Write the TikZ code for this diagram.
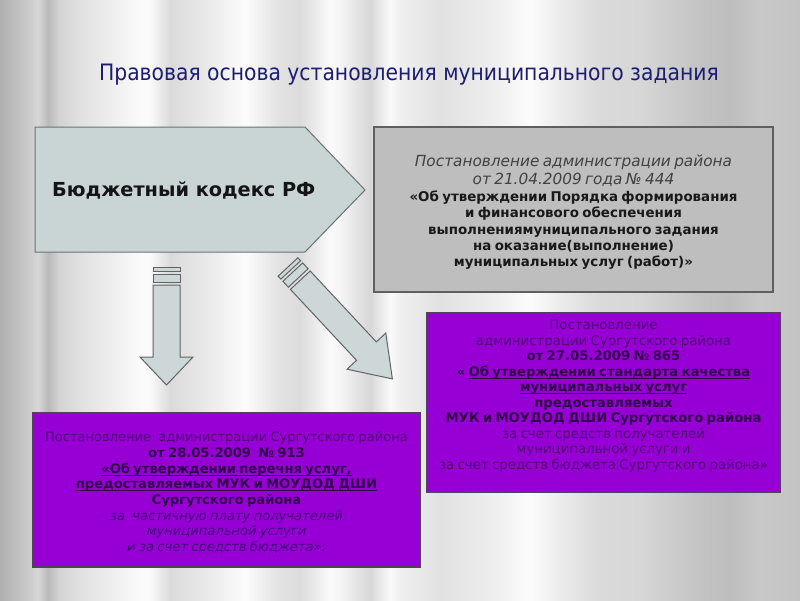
\documentclass[tikz,border=0pt]{standalone}
\usepackage{fontspec}
\setmainfont{DejaVu Sans}
\newfontfamily\titlefont{DejaVu Sans Condensed}
\definecolor{titleblue}{RGB}{28,28,112}
\definecolor{pentfill}{RGB}{201,213,213}
\definecolor{pentline}{RGB}{105,115,115}
\definecolor{grayfill}{RGB}{190,190,190}
\definecolor{grayline}{RGB}{95,95,95}
\definecolor{purp}{RGB}{150,0,212}
\definecolor{purpline}{RGB}{80,65,90}
\definecolor{ptextB}{RGB}{50,0,75}
\definecolor{ptextR}{RGB}{82,8,118}
\definecolor{ptextI}{RGB}{72,0,125}
\definecolor{arrfill}{RGB}{205,215,215}
\definecolor{arrline}{RGB}{95,100,100}
\newcommand\gbI{\fontsize{15.3}{18}\selectfont\itshape\color[RGB]{65,65,65}}
\newcommand\gbB{\fontsize{13.4}{16.4}\selectfont\bfseries\color[RGB]{25,25,25}}
\newcommand\pR{\fontsize{13.3}{15.5}\selectfont\color{ptextR}}
\newcommand\pB{\fontsize{13.2}{15.5}\selectfont\bfseries\color{ptextB}}
\newcommand\lR{\fontsize{13}{15.7}\selectfont\color{ptextR}}
\newcommand\lB{\fontsize{13.1}{15.7}\selectfont\bfseries\color{ptextB}}
\newcommand\lI{\fontsize{13.1}{15.7}\selectfont\itshape\color{ptextI}}
\newcommand\myul[1]{\leavevmode\setbox0\hbox{#1}\rlap{\rule[-2.4pt]{\wd0}{0.9pt}}\box0}
\tikzset{
  graybox/.style={draw=grayline, fill=grayfill, line width=1.2pt, inner sep=0pt},
  purpbox/.style={draw=purpline, fill=purp, line width=1.2pt, inner sep=0pt},
  boxtext/.style={align=center, inner sep=0pt},
  arr/.style={draw=arrline, fill=arrfill, line width=1pt, line join=miter},
}
\begin{document}
\begin{tikzpicture}[x=1pt,y=-1pt]
\useasboundingbox (0,0) rectangle (800,600);
% background silver bands
\foreach \xa/\va/\xb/\vb in {0/175/30/205, 30/205/38/215, 38/215/48/185, 48/185/58/210, 58/210/80/225, 80/225/140/250, 140/250/150/250, 150/250/170/218, 170/218/220/240, 220/240/245/252, 245/252/280/225, 280/225/300/220, 300/220/330/250, 330/250/340/245, 340/245/370/215, 370/215/390/250, 390/250/400/240, 400/240/440/225, 440/225/500/240, 500/240/530/252, 530/252/560/235, 560/235/600/218, 600/218/640/215, 640/215/700/195, 700/195/730/190, 730/190/760/200, 760/200/800/195}{
  \shade[left color={rgb,255:red,\va;green,\va;blue,\va}, right color={rgb,255:red,\vb;green,\vb;blue,\vb}] (\xa,0) rectangle (\xb+0.5,600);
}
% title
\node[text=titleblue, inner sep=0pt] (title) at (409,75) {\titlefont\fontsize{22.6}{28}\selectfont Правовая основа установления муниципального задания};
% budget code pentagon
\draw[draw=pentline, fill=pentfill, line width=1pt] (35,127) -- (305,127) -- (365,190) -- (305,252) -- (35,252) -- cycle;
\node[anchor=west, inner sep=0pt] (bk) at (52,190) {\fontsize{19.3}{23}\selectfont\bfseries\color[RGB]{20,20,20}Бюджетный кодекс РФ};
% gray box
\node[graybox, minimum width=399pt, minimum height=165pt] (gb) at (573.5,209.5) {};
\node[boxtext, text width=395pt] (gbt) at (573.5,212.5) {%
{\gbI Постановление администрации района\par}%
{\gbI от 21.04.2009 года № 444\par}%
{\gbB «Об утверждении Порядка формирования\par}%
{\gbB и финансового обеспечения\par}%
{\gbB выполнениямуниципального задания\par}%
{\gbB на оказание(выполнение)\par}%
{\gbB муниципальных услуг (работ)»\par}};
% right purple box
\node[purpbox, minimum width=353pt, minimum height=179pt] (pr) at (603.5,402.5) {};
\node[boxtext, text width=350pt] (prt) at (603.5,396) {%
{\pR Постановление\par}%
{\pR администрации Сургутского района\par}%
{\pB от 27.05.2009 № 865\par}%
{\pB « \myul{Об утверждении стандарта качества}\par}%
{\pB \myul{муниципальных услуг}\par}%
{\pB предоставляемых\par}%
{\pB МУК и МОУДОД ДШИ Сургутского района\par}%
{\pR за счет средств получателей\par}%
{\pR муниципальной услуги и\par}%
{\pR за счет средств бюджета Сургутского района»\par}};
% left purple box
\node[purpbox, minimum width=387pt, minimum height=154pt] (pl) at (226.5,490) {};
\node[boxtext, text width=384pt] (plt) at (226.5,493) {%
{\lR Постановление\hspace{4pt} администрации Сургутского района\par}%
{\lB от 28.05.2009\hspace{4pt} № 913\par}%
{\lB \myul{«Об утверждении перечня услуг,}\par}%
{\lB \myul{предоставляемых МУК и МОУДОД ДШИ}\par}%
{\lB Сургутского района\par}%
{\lI за\hspace{4pt} частичную плату получателей\par}%
{\lI муниципальной услуги\par}%
{\lI и за счет средств бюджета».\par}};
% down arrow
\begin{scope}[shift={(166.5,267)}]
  \draw[arr] (-13.5,0) rectangle (13.5,4);
  \draw[arr] (-13.5,7) rectangle (13.5,15);
  \draw[arr] (-13.5,18) -- (13.5,18) -- (13.5,90) -- (26.5,90) -- (0,118) -- (-26.5,90) -- (-13.5,90) -- cycle;
\end{scope}
% diagonal arrow
\begin{scope}[shift={(288,267)}, rotate=43]
  \draw[arr] (-13.5,0) rectangle (13.5,4);
  \draw[arr] (-13.5,7) rectangle (13.5,15);
  \draw[arr] (-13.5,18) -- (13.5,18) -- (13.5,115) -- (26.5,115) -- (0,153) -- (-26.5,115) -- (-13.5,115) -- cycle;
\end{scope}
\end{tikzpicture}
\end{document}
